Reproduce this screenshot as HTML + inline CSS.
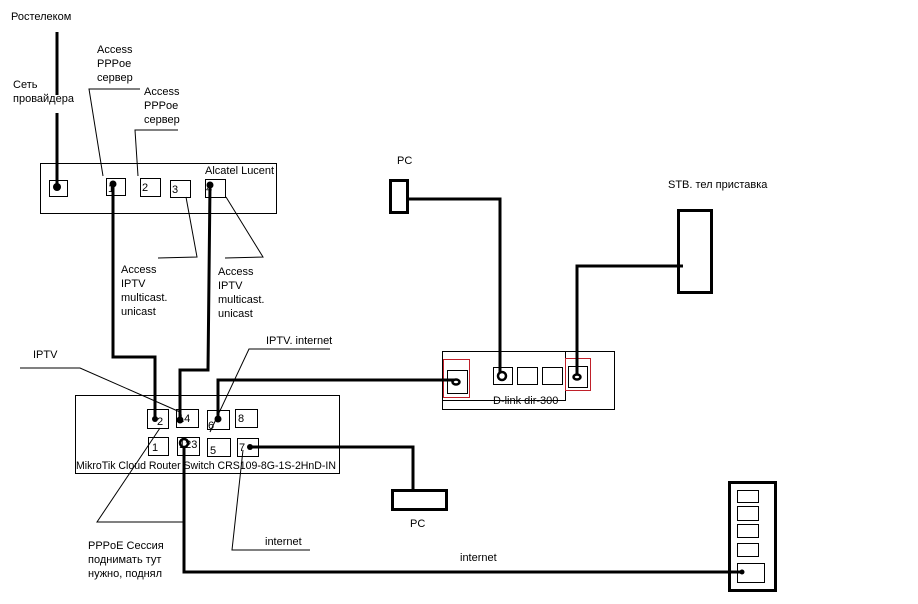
<!DOCTYPE html>
<html><head><meta charset="utf-8"><style>
html,body{margin:0;padding:0;background:#fff;}
svg{display:block;}
text{font-family:"Liberation Sans",sans-serif;font-size:11px;fill:#000;}
</style></head><body>
<svg width="918" height="604" viewBox="0 0 918 604" xmlns="http://www.w3.org/2000/svg">
<g fill="none" stroke="#000" stroke-width="1">
<!-- Alcatel -->
<rect x="40.5" y="163.5" width="236" height="50"/>
<rect x="49.5" y="180.5" width="18" height="16"/>
<rect x="106.5" y="178.5" width="19" height="17"/>
<rect x="140.5" y="178.5" width="20" height="18"/>
<rect x="170.5" y="180.5" width="20" height="17"/>
<rect x="205.5" y="179.5" width="20" height="18"/>
<!-- leaders top -->
<polyline points="140,89 89,89 103,176"/>
<polyline points="178,130 135,130 138,176"/>
<polyline points="186,197 197,257 158,258"/>
<polyline points="226,197 263,257 225,258"/>
<!-- Mikrotik -->
<rect x="75.5" y="395.5" width="264" height="78"/>
<rect x="147.5" y="409.5" width="21" height="19"/>
<rect x="176.5" y="409.5" width="22" height="18"/>
<rect x="207.5" y="410.5" width="22" height="19"/>
<rect x="235.5" y="409.5" width="22" height="18"/>
<rect x="148.5" y="437.5" width="20" height="18"/>
<rect x="177.5" y="437.5" width="22" height="18"/>
<rect x="207.5" y="438.5" width="23" height="18"/>
<rect x="237.5" y="438.5" width="21" height="18"/>
<polyline points="20,368 80,368 180,412"/>
<polyline points="330,349 249,349 210,432"/>
<polyline points="160,428 97,522 185,522"/>
<polyline points="243,450 232,550 310,550"/>
<!-- D-link -->
<rect x="442.5" y="351.5" width="172" height="58"/>
<rect x="442.5" y="351.5" width="123" height="49"/>
<rect x="447.5" y="370.5" width="20" height="23"/>
<rect x="493.5" y="367.5" width="19" height="17"/>
<rect x="517.5" y="367.5" width="20" height="17"/>
<rect x="542.5" y="367.5" width="20" height="17"/>
<rect x="568.5" y="366.5" width="19" height="21"/>
<rect x="443.5" y="359.5" width="26" height="38" stroke="#c0202a"/>
<rect x="565.5" y="358.5" width="25" height="32" stroke="#c0202a"/>
<!-- right device ports -->
<rect x="737.5" y="490.5" width="21" height="12"/>
<rect x="737.5" y="506.5" width="21" height="14"/>
<rect x="737.5" y="524.5" width="21" height="13"/>
<rect x="737.5" y="543.5" width="21" height="13"/>
<rect x="737.5" y="563.5" width="27" height="19"/>
</g>
<g fill="none" stroke="#000" stroke-width="3">
<line x1="57" y1="32" x2="57" y2="95"/>
<line x1="57" y1="113" x2="57" y2="187"/>
<polyline points="113,184 113,357 155,357 155,419"/>
<polyline points="210,185 208,370 180,370 180,420"/>
<polyline points="218,419 218,380 455,380"/>
<polyline points="250,447 413,447 413,490"/>
<polyline points="184,443 184,572 742,572"/>
<polyline points="407,199 500,199 500,376"/>
<polyline points="577,376 577,266 683,266"/>
<rect x="390.5" y="180.5" width="17" height="32"/>
<rect x="392.5" y="490.5" width="54" height="19"/>
<rect x="678.5" y="210.5" width="33" height="82"/>
<rect x="729.5" y="482.5" width="46" height="108"/>
</g>
<g fill="#000">
<circle cx="57" cy="187" r="4"/><circle cx="113" cy="184" r="3.5"/><circle cx="210" cy="185" r="3.5"/>
<circle cx="155" cy="419" r="3"/><circle cx="180" cy="420" r="3.5"/><circle cx="218" cy="419" r="3.5"/>
<circle cx="250" cy="447" r="3"/><circle cx="742" cy="572" r="2.5"/>
</g>
<g fill="#fff" stroke="#000" stroke-width="2.5">
<circle cx="184" cy="443" r="4"/><circle cx="502" cy="376" r="4"/>
<ellipse cx="456" cy="382" rx="3.5" ry="2.5"/><ellipse cx="577" cy="377" rx="3.5" ry="2.5"/>
</g>
<text x="11" y="20">Ростелеком</text>
<text x="13" y="88">Сеть</text><text x="13" y="102">провайдера</text>
<text x="97" y="53">Access</text><text x="97" y="67">PPPoe</text><text x="97" y="81">сервер</text>
<text x="144" y="95">Access</text><text x="144" y="109">PPPoe</text><text x="144" y="123">сервер</text>
<text x="205" y="174">Alcatel Lucent</text>
<text x="108" y="192">1</text><text x="142" y="191">2</text><text x="172" y="193">3</text><text x="206" y="192">4</text>
<text x="121" y="273">Access</text><text x="121" y="287">IPTV</text><text x="121" y="301">multicast.</text><text x="121" y="315">unicast</text>
<text x="218" y="275">Access</text><text x="218" y="289">IPTV</text><text x="218" y="303">multicast.</text><text x="218" y="317">unicast</text>
<text x="33" y="358">IPTV</text>
<text x="266" y="344">IPTV. internet</text>
<text x="157" y="425">2</text><text x="178" y="422">14</text><text x="208" y="429">6</text><text x="238" y="422">8</text>
<text x="152" y="451">1</text><text x="179" y="448">123</text><text x="210" y="454">5</text><text x="239" y="451">7</text>
<text x="76" y="469" textLength="260" lengthAdjust="spacingAndGlyphs">MikroTik Cloud Router Switch CRS109-8G-1S-2HnD-IN</text>
<text x="493" y="404">D-link dir-300</text>
<text x="397" y="164">PC</text>
<text x="668" y="188">STB. тел приставка</text>
<text x="410" y="527">PC</text>
<text x="88" y="549">PPPoE Сессия</text><text x="88" y="563">поднимать тут</text><text x="88" y="577">нужно, поднял</text>
<text x="265" y="545">internet</text>
<text x="460" y="561">internet</text>
</svg>
</body></html>
